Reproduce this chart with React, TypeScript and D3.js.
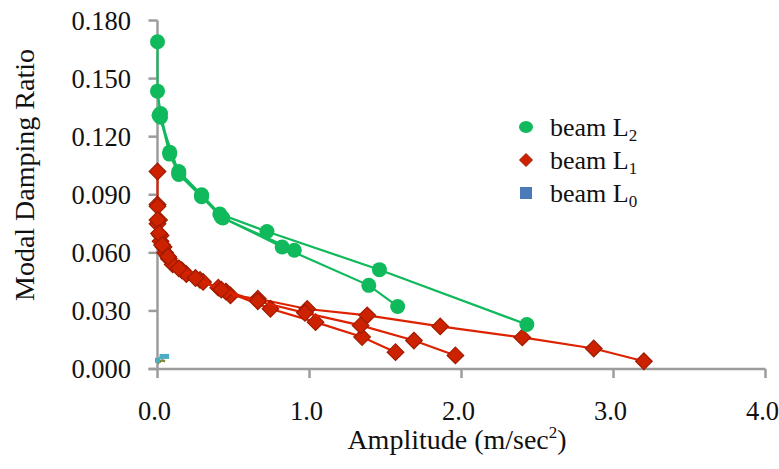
import React from 'react';
import * as d3 from 'd3';

type P = [number, number];

const xTicks = [0, 1, 2, 3, 4];
const yTicks = [0, 0.03, 0.06, 0.09, 0.12, 0.15, 0.18];

// beam L2 (green) – three sweeps
const beamL2_a: P[] = [[0.0, 0.169], [0.0, 0.1435], [0.02, 0.132], [0.08, 0.112], [0.14, 0.102], [0.29, 0.090], [0.41, 0.080], [0.72, 0.071], [1.46, 0.0513], [2.43, 0.023]];
const beamL2_b: P[] = [[0.02, 0.130], [0.08, 0.111], [0.14, 0.1005], [0.29, 0.089], [0.42, 0.0785], [0.82, 0.063], [1.39, 0.0432], [1.58, 0.0323]];
const beamL2_c: P[] = [[0.01, 0.131], [0.14, 0.101], [0.29, 0.0895], [0.43, 0.078], [0.90, 0.0613]];

// beam L1 (red) – three sweeps
const beamL1_a: P[] = [[0.0, 0.102], [0.0, 0.085], [0.01, 0.077], [0.02, 0.069], [0.04, 0.063], [0.075, 0.057], [0.16, 0.051], [0.28, 0.046], [0.40, 0.042], [0.48, 0.038], [0.66, 0.0363], [0.985, 0.031], [1.38, 0.0277], [1.86, 0.022], [2.40, 0.0163], [2.87, 0.0106], [3.20, 0.004]];
const beamL1_b: P[] = [[0.0, 0.084], [0.0, 0.075], [0.02, 0.066], [0.05, 0.060], [0.10, 0.054], [0.19, 0.049], [0.30, 0.045], [0.45, 0.040], [0.743, 0.0311], [1.04, 0.0242], [1.346, 0.0165], [1.566, 0.0087]];
const beamL1_c: P[] = [[0.0, 0.077], [0.01, 0.070], [0.03, 0.064], [0.07, 0.058], [0.14, 0.052], [0.25, 0.047], [0.42, 0.041], [0.66, 0.035], [0.97, 0.029], [1.336, 0.0225], [1.687, 0.0147], [1.96, 0.007]];

// beam L0 (blue)
const beamL0: P[] = [[0.0, 0.0045], [0.03, 0.0065], [0.06, 0.0065]];
const beamL0_b: P[] = [[0.0, 0.003], [0.03, 0.0045], [0.05, 0.004]];

const legendLabels = [
  { base: 'beam L', sub: '2' },
  { base: 'beam L', sub: '1' },
  { base: 'beam L', sub: '0' },
];

const GREEN = '#10b95c';
const RED_LINE = '#dd2200';
const RED_FILL = '#cc2200';
const RED_STROKE = '#a11a00';
const BLUE = '#4bacc6';
const AXIS = '#9c9c9c';
const FONT = "'Liberation Serif', 'Times New Roman', serif";

export default function App() {
  const W = 779, H = 469;
  const x = d3.scaleLinear().domain([0, 4]).range([157.5, 765.5]);
  const y = d3.scaleLinear().domain([0, 0.18]).range([369, 20.5]);
  const line = d3.line<P>().x(d => x(d[0])).y(d => y(d[1]));
  const diamond = (r: number) => `M0,${-r}L${r},0L0,${r}L${-r},0Z`;

  const greens = [beamL2_a, beamL2_b, beamL2_c];
  const reds = [beamL1_a, beamL1_b, beamL1_c];

  const legendRows = [127, 160, 193];
  const ts = { fontFamily: FONT };

  return (
    <svg width={W} height={H} style={{ position: 'absolute', left: 0, top: 0, background: '#fff' }}>
      {/* axes */}
      <g>
        <line x1={x(0)} x2={x(0)} y1={y(0.18)} y2={y(0)} stroke={AXIS} strokeWidth={2.5} />
        <line x1={x(0) - 9} x2={x(4)} y1={y(0)} y2={y(0)} stroke={AXIS} strokeWidth={2.5} />
        {yTicks.map(t => (
          <g key={'y' + t}>
            <line x1={x(0) - 9} x2={x(0)} y1={y(t)} y2={y(t)} stroke={AXIS} strokeWidth={2.5} />
            <text x={131} y={y(t) + 9} textAnchor="end" fontSize={26.5} fill="#111" style={ts}>{d3.format('.3f')(t)}</text>
          </g>
        ))}
        {xTicks.map(t => (
          <g key={'x' + t}>
            <line x1={x(t)} x2={x(t)} y1={y(0)} y2={y(0) + 9} stroke={AXIS} strokeWidth={2.5} />
            <text x={x(t) - 3} y={420} textAnchor="middle" fontSize={26.5} fill="#111" style={ts}>{d3.format('.1f')(t)}</text>
          </g>
        ))}
        <text transform={`translate(34,175) rotate(-90)`} textAnchor="middle" fontSize={28} fill="#111" style={ts}>Modal Damping Ratio</text>
        <text x={457} y={449} textAnchor="middle" fontSize={28} fill="#111" style={ts}>
          Amplitude (m/sec<tspan fontSize={17} dy={-11}>2</tspan><tspan dy={11}>)</tspan>
        </text>
      </g>

      {/* beam L0 */}
      <g>
        <path d={line(beamL0_b) || ''} fill="none" stroke="#7a8a3a" strokeWidth={2.5} />
        <path d={line(beamL0) || ''} fill="none" stroke={BLUE} strokeWidth={2.5} />
        {beamL0.map((d, i) => (
          <rect key={i} x={x(d[0]) - 2.5} y={y(d[1]) - 2.5} width={5} height={5} fill={BLUE} />
        ))}
      </g>

      {/* beam L1 */}
      {reds.map((s, k) => (
        <g key={'r' + k}>
          <path d={line(s) || ''} fill="none" stroke={RED_LINE} strokeWidth={2.2} />
          {s.map((d, i) => (
            <path key={i} d={diamond(8.3)} transform={`translate(${x(d[0])},${y(d[1])})`} fill={RED_FILL} stroke={RED_STROKE} strokeWidth={1.2} />
          ))}
        </g>
      ))}

      {/* beam L2 */}
      {greens.map((s, k) => (
        <g key={'g' + k}>
          <path d={line(s) || ''} fill="none" stroke={GREEN} strokeWidth={2.2} />
          {s.map((d, i) => (
            <circle key={i} cx={x(d[0])} cy={y(d[1])} r={7.5} fill={GREEN} />
          ))}
        </g>
      ))}

      {/* legend */}
      <g>
        <ellipse cx={526} cy={legendRows[0]} rx={7} ry={6} fill={GREEN} />
        <path d={diamond(6.5)} transform={`translate(526,${legendRows[1]})`} fill={RED_FILL} stroke={RED_STROKE} strokeWidth={1} />
        <rect x={520} y={legendRows[2] - 6} width={12} height={12} fill="#4a7ab8" />
        {legendLabels.map((l, i) => (
          <text key={i} x={550} y={legendRows[i] + 9} fontSize={26} fill="#111" style={ts}>
            {l.base}<tspan fontSize={17} dy={5}>{l.sub}</tspan>
          </text>
        ))}
      </g>
    </svg>
  );
}
